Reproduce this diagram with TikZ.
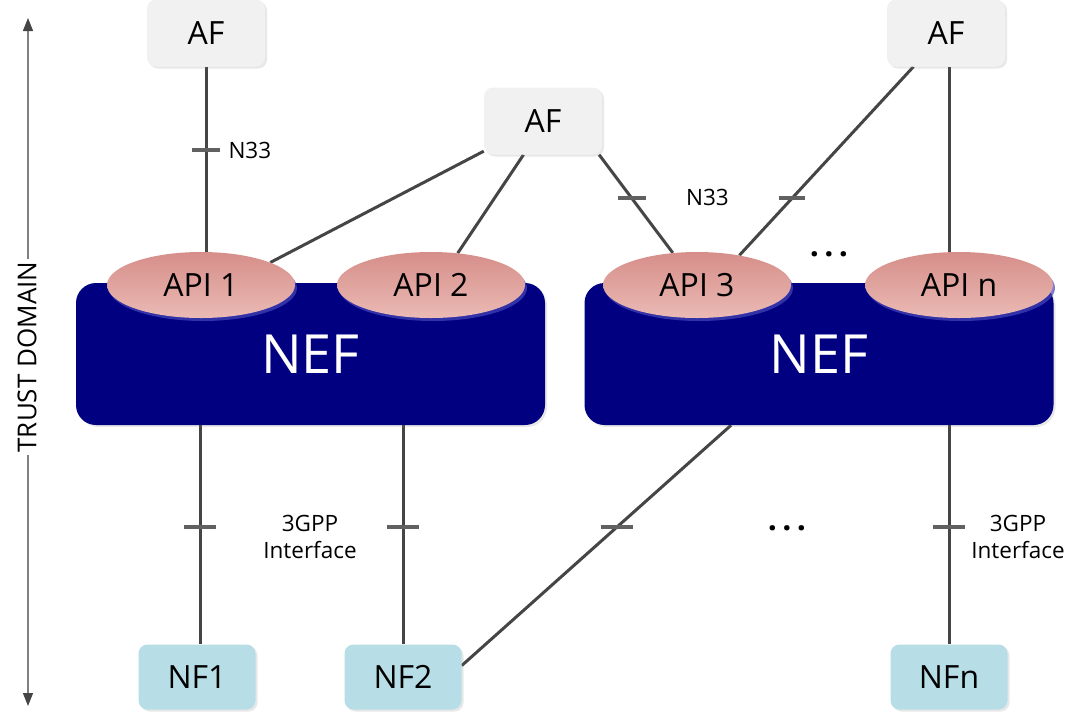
\documentclass[tikz,border=0pt]{standalone}
\usepackage{fontspec}
\setmainfont{Open Sans}
\usetikzlibrary{shapes.geometric,shadows,arrows.meta,backgrounds,calc}
\definecolor{afgray}{HTML}{F1F1F1}
\definecolor{nfblue}{HTML}{B7DDE6}
\definecolor{nefblue}{HTML}{000080}
\definecolor{apitop}{HTML}{D68E89}
\definecolor{apibot}{HTML}{EBBAB5}
\definecolor{lineg}{HTML}{454545}
\begin{document}
\begin{tikzpicture}[x=1pt,y=-1pt,
  boxshadow/.style={drop shadow={opacity=0.18,shadow xshift=2pt,shadow yshift=-2pt}},
  afbox/.style={rectangle,rounded corners=9pt,fill=afgray,minimum width=118pt,minimum height=67pt,inner sep=0pt,boxshadow,font=\fontsize{32}{38}\selectfont},
  nfbox/.style={rectangle,rounded corners=9pt,fill=nfblue,minimum width=117pt,minimum height=65pt,inner sep=0pt,boxshadow,font=\fontsize{32}{38}\selectfont},
  nefbox/.style={rectangle,rounded corners=20pt,fill=nefblue,minimum width=469pt,minimum height=142pt,inner sep=0pt,text=white,boxshadow,font=\fontsize{54}{62}\selectfont},
  api/.style={ellipse,minimum width=188pt,minimum height=66pt,inner sep=0pt,top color=apitop,bottom color=apibot,
     drop shadow={opacity=0.7,shadow xshift=2pt,shadow yshift=-3pt,fill=blue!45!gray},font=\fontsize{32}{38}\selectfont},
  conn/.style={draw=lineg,line width=3pt},
  tickmark/.style={draw=lineg!85,line width=4pt},
  lbl/.style={font=\fontsize{22.5}{27}\selectfont,align=center},
  dots/.style={font=\fontsize{32}{36}\selectfont\bfseries}]
\useasboundingbox (0,0) rectangle (1080,713);

% trust domain axis
\coordinate (tdtop) at (28,18);
\coordinate (tdbot) at (28,706);
\draw[gray,line width=1.2pt,{Triangle[length=13pt,width=10pt,color=lineg]}-{Triangle[length=13pt,width=10pt,color=lineg]}] (tdtop) -- (tdbot);
\node[fill=white,rotate=90,inner xsep=3pt,inner ysep=4pt,font=\fontsize{26}{30}\selectfont] (td) at (27,357) {TRUST DOMAIN};

% nodes
\node[afbox] (af1) at (206,33) {AF};
\node[afbox] (af2) at (543,121) {AF};
\node[afbox] (af3) at (946,33) {AF};

\node[nefbox] (nef1) at (310.5,354) {NEF};
\node[nefbox] (nef2) at (819,354) {NEF};

\node[api] (api1) at (201,285) {API 1};
\node[api] (api2) at (431,285) {API 2};
\node[api] (api3) at (697,285) {API 3};
\node[api] (apin) at (959,285) {API n};

\node[nfbox] (nf1) at (197,677) {NF1};
\node[nfbox] (nf2) at (403,677) {NF2};
\node[nfbox] (nfn) at (949,677) {NFn};

% connectors
\begin{scope}[on background layer]
\draw[conn] (af1.south) -- coordinate[pos=0.45] (t1) (af1.south |- api1.north);
\draw[conn] (af2.207) -- (api1.18);
\draw[conn] (af2.240) -- (api2.50);
\draw[conn] (af2.-31) -- coordinate[pos=0.44] (t2) (api3.127);
\draw[conn] (af3.226) -- coordinate[pos=0.696] (t3) (api3.35);
\draw[conn] ([xshift=3pt]af3.south) -- ([xshift=3pt]af3.south |- apin.north);

\draw[conn] ([xshift=3pt]nf1.north |- nef1.south) -- coordinate[pos=0.465] (t4) ([xshift=3pt]nf1.north);
\draw[conn] (nf2.north |- nef1.south) -- coordinate[pos=0.465] (t5) (nf2.north);
\draw[conn] (nef2.219.8) -- coordinate[pos=0.425] (t6) (nf2.11);
\draw[conn] (nfn.north |- nef2.south) -- coordinate[pos=0.465] (t7) (nfn.north);
\end{scope}

% interface ticks
\foreach \t/\w in {t1/14,t2/14,t3/13,t4/16,t5/16,t6/16,t7/16}{
  \draw[tickmark] ([xshift=-\w pt]\t) -- ([xshift=\w pt]\t);
}

% labels
\node[lbl,anchor=west] (l1) at ([xshift=19pt]t1) {N33};
\node[lbl,anchor=west] (l2) at ([xshift=51pt]t2) {N33};
\node[lbl] (l3) at ([xshift=110pt,yshift=-10pt]t4) {3GPP\\Interface};
\node[lbl] (l4) at ([xshift=69pt,yshift=-10pt]t7) {3GPP\\Interface};
\node[dots] (d1) at (787,528) {.\,.\,.};
\node[dots] (d2) at (829,254) {.\,.\,.};
\end{tikzpicture}
\end{document}
